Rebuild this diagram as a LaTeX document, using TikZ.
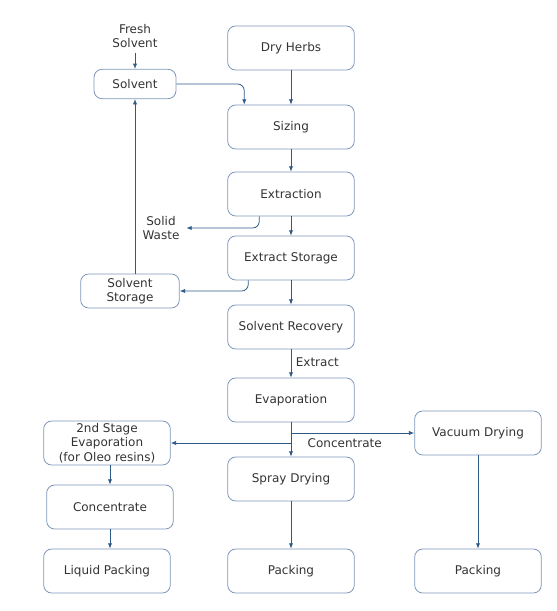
\documentclass[tikz,border=0pt]{standalone}
\usepackage{fontspec}
\setmainfont{DejaVu Sans}
\usetikzlibrary{arrows.meta,calc}
\definecolor{boxline}{HTML}{7D96B8}
\definecolor{flowline}{HTML}{2E5A88}
\definecolor{txt}{HTML}{333333}
\begin{document}
\begin{tikzpicture}[x=0.75pt, y=-0.75pt, >={Latex[length=4pt,width=3.2pt]},
    every node/.style={font=\fontsize{9}{10.8}\selectfont, text=txt, align=center},
    box/.style={draw=boxline, line width=0.6pt, rounded corners=6pt,
        minimum width=95pt, minimum height=33pt, inner sep=1pt},
    flow/.style={->, draw=flowline, line width=0.6pt}]
\useasboundingbox (0,0) rectangle (557,611);
% main column
\node[box] (herbs) at (291,48) {Dry Herbs};
\node[box] (siz) at (291,127) {Sizing};
\node[box] (ext) at (291,194) {Extraction};
\node[box] (exs) at (291,258) {Extract Storage};
\node[box] (rec) at (291,327) {Solvent Recovery};
\node[box] (evap) at (291,400) {Evaporation};
\node[box] (spray) at (291,479) {Spray Drying};
\node[box] (pack) at (291,571) {Packing};
% solvent loop
\node (fresh) at (135,36) {Fresh\\Solvent};
\node[box, minimum width=61.5pt, minimum height=22pt] (solv) at (135,84) {Solvent};
\node[box, minimum width=74pt, minimum height=25.5pt] (sst) at (130,291) {Solvent\\Storage};
\node[inner sep=5pt] (waste) at (161,228) {Solid\\Waste};
% side branches
\node[box] (sec) at (107,443) {2nd Stage\\Evaporation\\(for Oleo resins)};
\node[box] (conc) at (110,507) {Concentrate};
\node[box] (liq) at (107,571) {Liquid Packing};
\node[box] (vac) at (478,433) {Vacuum Drying};
\node[box] (pack2) at (478,571) {Packing};

\draw[flow] (fresh) -- (solv);
\draw[flow, rounded corners=5pt] (solv.east) -| ($(siz.north west)+(17,0)$);
\draw[flow] (herbs) -- (siz);
\draw[flow] (siz) -- (ext);
\draw[flow] (ext) -- (exs);
\draw[flow, rounded corners=5pt] ($(ext.south west)+(32,0)$) |- (waste.east);
\draw[flow] (exs) -- (rec);
\draw[flow, rounded corners=5pt] ($(exs.south west)+(21,0)$) |- (sst.east);
\draw[flow] (sst.north -| solv.south) -- (solv.south);
\draw[flow] (rec) -- node[right, pos=0.45] {Extract} (evap);
\draw[flow] (evap) -- (spray);
\draw[flow] (evap.south |- vac.west) -- (vac.west);
\draw[flow] (evap.south |- sec.east) -- (sec.east);
\node[anchor=west] (conclbl) at (303,443) {Concentrate};
\draw[flow] (sec.south -| conc.north) -- (conc.north);
\draw[flow] (conc) -- (conc.south |- liq.north);
\draw[flow] (spray) -- (pack);
\draw[flow] (vac) -- (pack2);
\end{tikzpicture}
\end{document}
